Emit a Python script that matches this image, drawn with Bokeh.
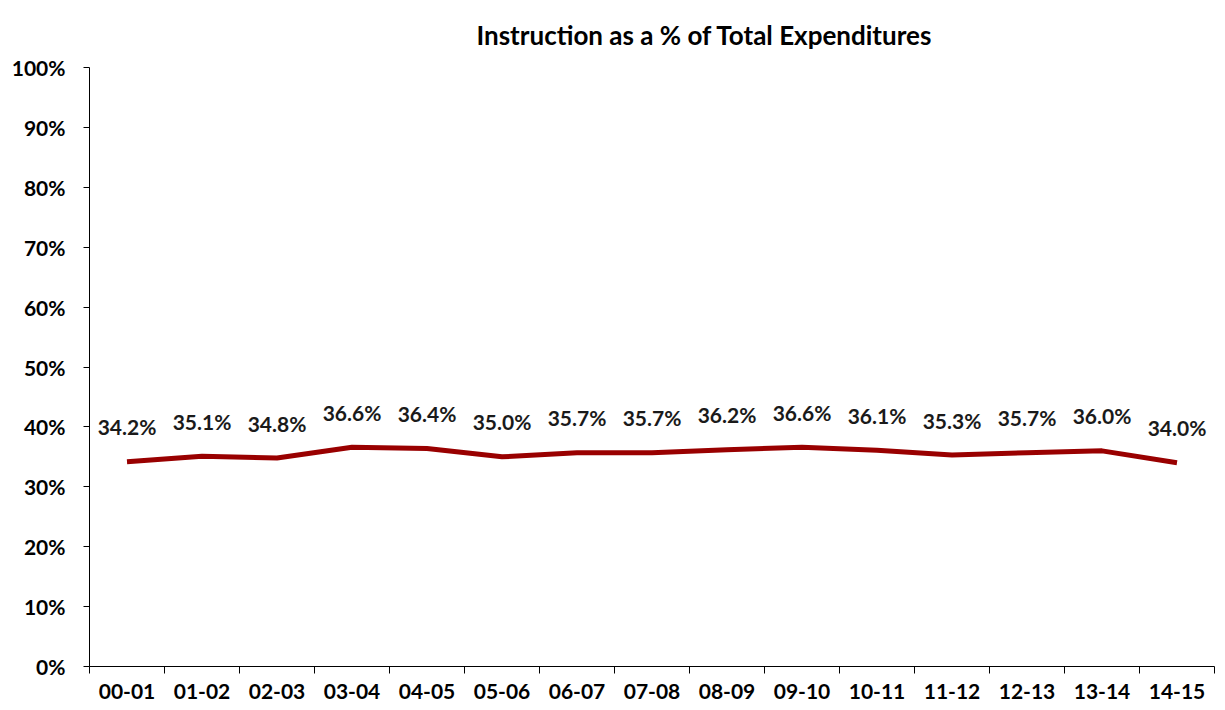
import numpy as np
from bokeh.plotting import figure
from bokeh.models import Range1d, LinearAxis, FixedTicker, ColumnDataSource
from bokeh.embed import file_html
from bokeh.resources import INLINE
from bokeh.core.properties import value

# ---- data ----
years = ["00-01", "01-02", "02-03", "03-04", "04-05", "05-06", "06-07", "07-08",
         "08-09", "09-10", "10-11", "11-12", "12-13", "13-14", "14-15"]
instruction_pct = [34.2, 35.1, 34.8, 36.6, 36.4, 35.0, 35.7, 35.7,
                   36.2, 36.6, 36.1, 35.3, 35.7, 36.0, 34.0]
y_tick_values = [0, 10, 20, 30, 40, 50, 60, 70, 80, 90, 100]
y_tick_labels = ["0%", "10%", "20%", "30%", "40%", "50%", "60%", "70%", "80%", "90%", "100%"]
title_text = "Instruction as a % of Total Expenditures"

FONT = "Lato"
n = len(years)
xc = [i + 0.5 for i in range(n)]
src = ColumnDataSource(dict(x=xc, y=instruction_pct,
                            label=[f"{v:.1f}%" for v in instruction_pct]))

p = figure(width=1217, height=702, output_backend="svg", toolbar_location=None,
           x_range=Range1d(0, n), y_range=Range1d(0, 100),
           x_axis_location=None,
           min_border_left=89, min_border_right=3, min_border_top=67, min_border_bottom=36)

p.title.text = title_text
p.title.text_font = FONT
p.title.text_font_style = "bold"
p.title.text_font_size = "26px"
p.title.align = "left"
p.title.offset = 387
p.title.standoff = 33
p.title.text_color = "black"

p.outline_line_color = None
p.grid.visible = False
p.background_fill_color = "white"
p.border_fill_color = "white"

# y axis
ya = p.yaxis[0]
ya.ticker = FixedTicker(ticks=y_tick_values)
ya.major_label_overrides = {v: l for v, l in zip(y_tick_values, y_tick_labels)}
ya.major_label_text_font = FONT
ya.major_label_text_font_style = "bold"
ya.major_label_text_font_size = "21px"
ya.major_label_text_color = "black"
ya.major_tick_in = 0
ya.major_tick_out = 6
ya.minor_tick_line_color = None
ya.axis_line_color = "black"
ya.major_tick_line_color = "black"
ya.major_label_standoff = 18

# x axis: ticks at category boundaries, labels at category centres
ax_ticks = LinearAxis(ticker=FixedTicker(ticks=list(range(n + 1))),
                      major_label_text_font_size="1px", major_label_text_color=None,
                      major_tick_in=0, major_tick_out=7, minor_tick_line_color=None,
                      major_label_standoff=0, axis_line_color="black",
                      major_tick_line_color="black")
ax_labels = LinearAxis(ticker=FixedTicker(ticks=xc),
                       major_label_overrides={x: y for x, y in zip(xc, years)},
                       axis_line_color=None, major_tick_line_color=None,
                       minor_tick_line_color=None, major_label_standoff=4,
                       major_label_text_font=FONT, major_label_text_font_style="bold",
                       major_label_text_font_size="21px", major_label_text_color="black")
p.add_layout(ax_ticks, "below")
p.add_layout(ax_labels, "below")

p.line(x="x", y="y", source=src, line_color="#990000", line_width=5)
p.text(x="x", y="y", text="label", source=src, text_font=value(FONT),
       text_font_style="bold", text_font_size="21px", text_align="center",
       text_baseline="alphabetic", y_offset=-35, text_color="#1a1a1a")

open("out.html", "w").write(file_html(p, INLINE))
